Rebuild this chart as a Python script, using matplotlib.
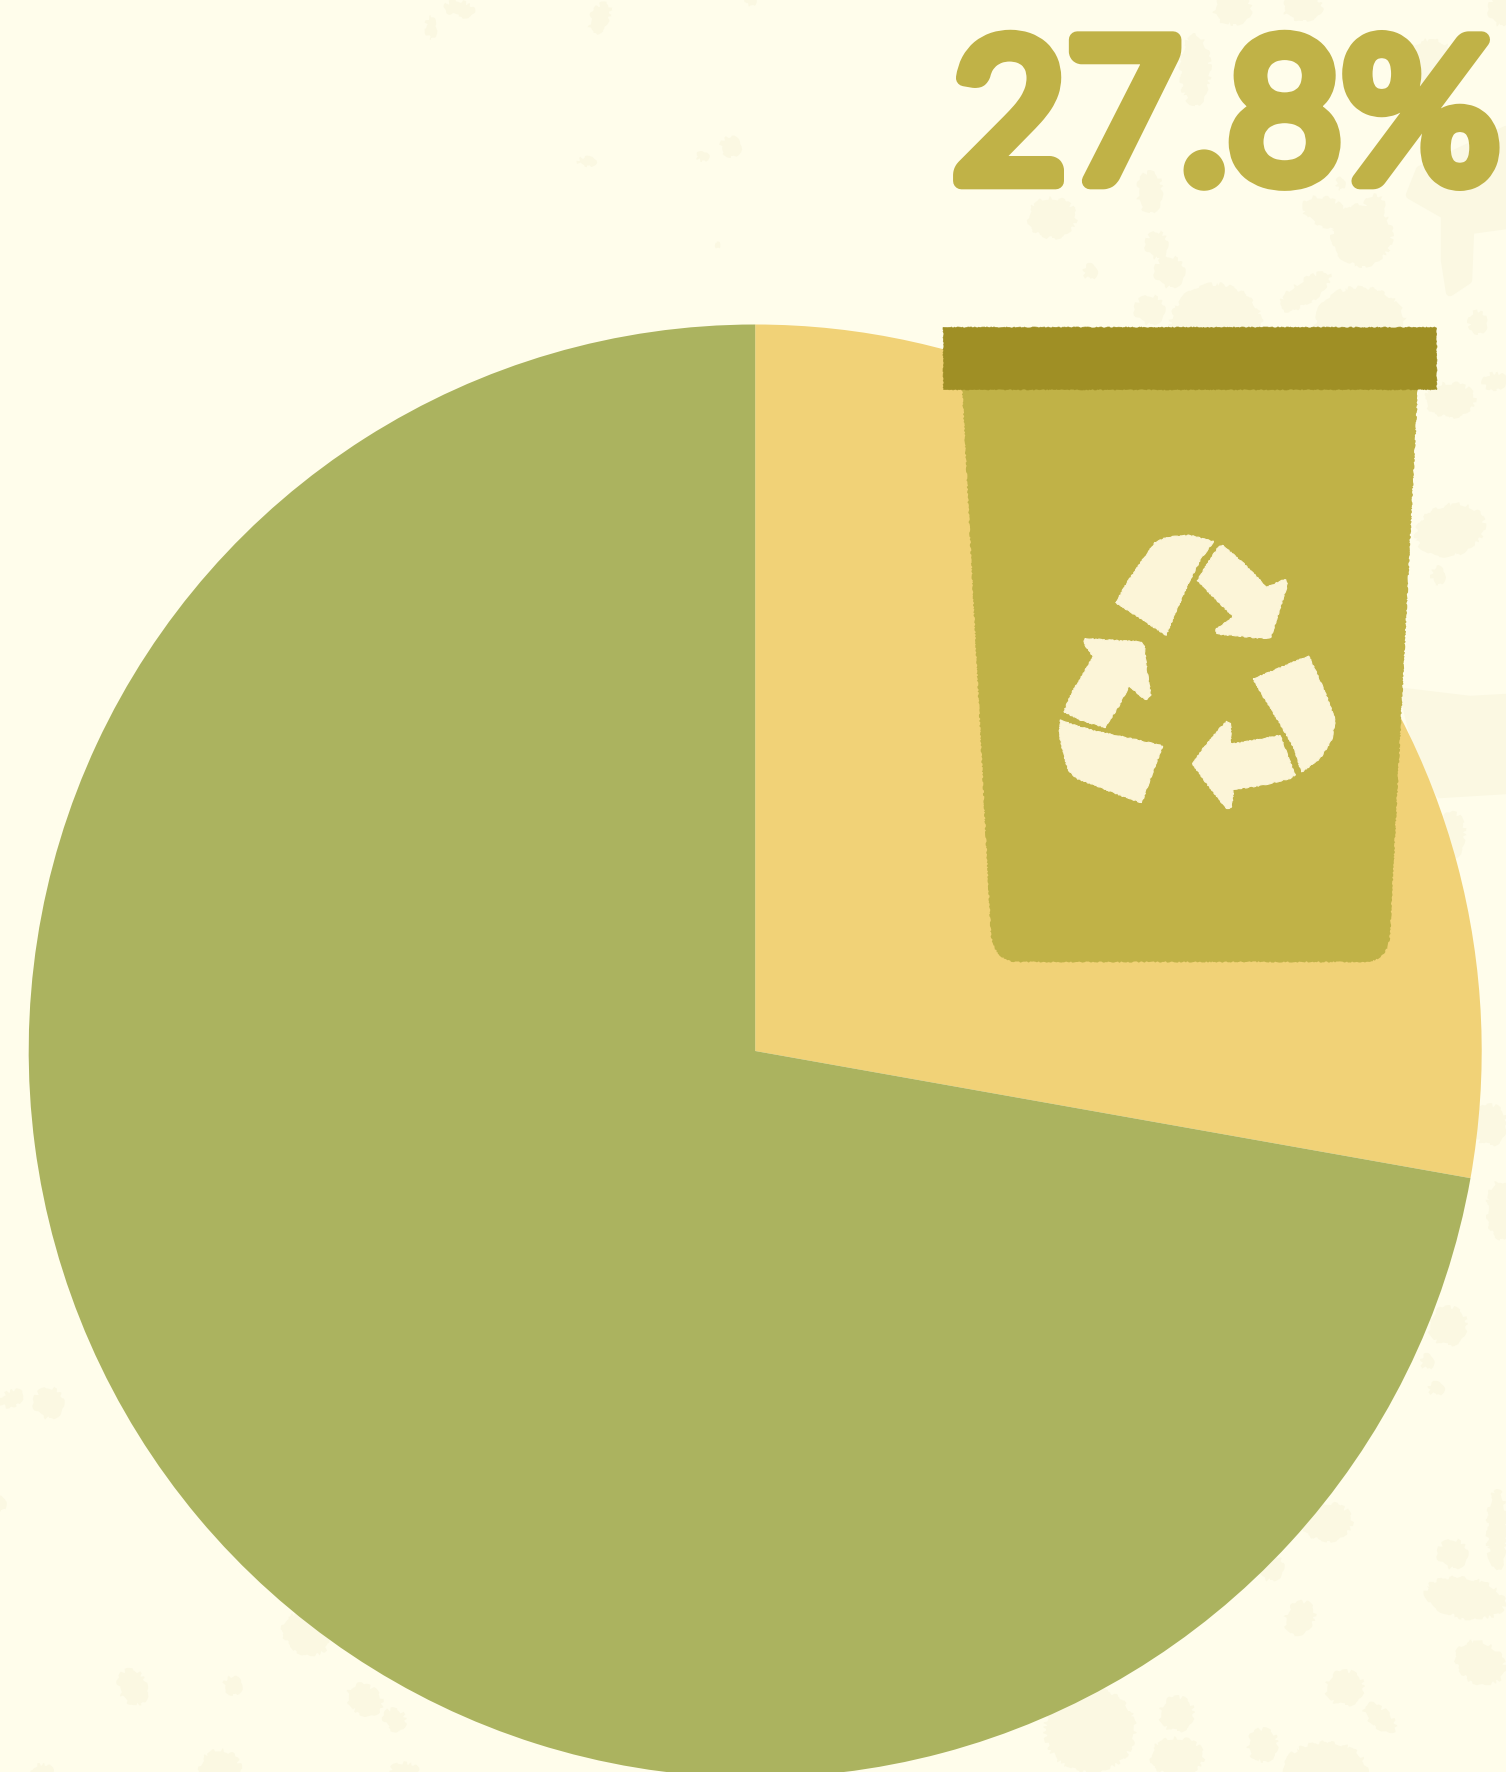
import matplotlib
matplotlib.use("Agg")
import matplotlib.pyplot as plt
import matplotlib.patheffects as pe
from matplotlib.patches import Ellipse, Polygon, PathPatch
from matplotlib.path import Path

# Share of waste that gets recycled
categories = ["Recycled", "Not recycled"]
shares = [27.8, 72.2]
share_label = "27.8%"

WIDTH, HEIGHT = 1506, 1772
PAPER = "#FFFDEB"
SPECKLE = "#FBF8E2"
SLICE_COLORS = ["#F1D277", "#ABB35F"]
BIN_COLOR = "#C0B247"
LID_COLOR = "#9F8F25"
ICON_COLOR = "#FCF5D8"


def flip(points):
    """Convert top-left pixel positions to the y-up axes used here."""
    return [(x, HEIGHT - y) for x, y in points]


fig = plt.figure(figsize=(WIDTH / 100, HEIGHT / 100), dpi=100, facecolor=PAPER)
ax = fig.add_axes([0, 0, 1, 1])
ax.set_facecolor(PAPER)

# Paper texture: faint blotches (cx, cy, width, height, tilt)
blotches = [
    (431, 27, 10, 22, 0), (460, 9, 30, 15, -10), (600, 18, 18, 32, -25), (750, 1, 10, 9, 0),
    (731, 146, 20, 20, 0), (702, 156, 12, 9, 0), (587, 161, 18, 9, 0), (717, 245, 3, 6, 0),
    (1052, 218, 48, 40, 0), (1150, 192, 25, 40, 0), (1157, 245, 22, 26, 0), (1170, 272, 30, 30, 0),
    (1090, 271, 13, 15, 0), (1150, 310, 30, 28, 0), (1216, 328, 92, 88, 0), (1305, 292, 60, 22, 35),
    (1360, 325, 90, 76, 0), (1325, 212, 45, 28, -20), (1362, 235, 60, 62, 0), (1375, 206, 20, 22, 0),
    (1478, 322, 18, 22, 0), (1340, 183, 8, 12, 0), (1233, 10, 38, 28, 0), (1303, 8, 40, 24, 0),
    (1195, 70, 30, 70, 0), (1430, 70, 60, 60, 0), (1500, 10, 22, 30, 0), (1450, 400, 50, 34, 0),
    (1495, 381, 24, 16, 10), (1450, 530, 70, 50, 15), (1438, 575, 13, 18, 0), (1452, 835, 26, 45, 0),
    (1490, 1125, 34, 40, 0), (1500, 1210, 26, 58, 0), (1448, 1326, 38, 38, 0), (1427, 1361, 12, 15, 0),
    (1436, 1388, 15, 13, 0), (1327, 1522, 50, 38, 0), (1270, 1567, 28, 26, 0), (1300, 1618, 28, 34, -30),
    (1453, 1554, 30, 28, 0), (1465, 1598, 80, 40, -10), (1497, 1530, 20, 80, 0), (1480, 1663, 52, 40, -30),
    (1345, 1688, 38, 34, 0), (1380, 1718, 40, 18, -40), (1263, 1745, 30, 32, 0), (1177, 1714, 34, 34, 0),
    (1090, 1730, 90, 85, 0), (1177, 1757, 53, 38, 0), (1325, 1772, 84, 60, 0), (12, 1398, 24, 15, 30),
    (49, 1403, 30, 30, 0), (1, 1503, 8, 14, 0), (305, 1635, 50, 36, -35), (133, 1687, 28, 36, 25),
    (233, 1685, 18, 18, 0), (365, 1700, 38, 28, -35), (395, 1720, 24, 20, -40), (220, 1772, 42, 44, 0),
    (43, 1772, 22, 16, 0), (405, 1770, 28, 14, 0),
]
for cx, cy, w, h, tilt in blotches:
    blotch = Ellipse((cx, HEIGHT - cy), w, h, angle=tilt, facecolor=SPECKLE, edgecolor="none", zorder=0)
    blotch.set_sketch_params(scale=2.0, length=30, randomness=20)
    ax.add_patch(blotch)

large_blotches = [
    [(1420, 170), (1506, 130), (1506, 225), (1470, 230), (1468, 280), (1450, 292), (1445, 260), (1445, 215), (1410, 195)],
    [(1403, 692), (1470, 700), (1506, 698), (1506, 790), (1440, 794), (1420, 760)],
]
for outline in large_blotches:
    ax.add_patch(Polygon(flip(outline), closed=True, facecolor=SPECKLE, edgecolor=SPECKLE,
                         linewidth=6, joinstyle="round", zorder=0))

# Pie, clockwise from twelve o'clock
ax.pie(shares, colors=SLICE_COLORS, startangle=90, counterclock=False,
       center=(755.2, HEIGHT - 1051), radius=726.5, frame=True,
       wedgeprops={"linewidth": 0, "zorder": 1})

# Waste bin: body with rounded lower corners, then the lid
body_path = Path(
    flip([(962, 385), (991, 935), (995, 962), (1018, 962), (1363, 962), (1388, 962), (1390, 935), (1418, 385), (962, 385)]),
    [Path.MOVETO, Path.LINETO, Path.CURVE3, Path.CURVE3, Path.LINETO, Path.CURVE3, Path.CURVE3, Path.LINETO, Path.CLOSEPOLY],
)
body = PathPatch(body_path, facecolor=BIN_COLOR, edgecolor="none", zorder=3)
body.set_sketch_params(scale=0.6, length=5, randomness=12)
ax.add_patch(body)

lid = Polygon(flip([(943, 327), (1436, 327), (1436, 389), (943, 389)]), closed=True,
              facecolor=LID_COLOR, edgecolor=LID_COLOR, linewidth=0.5, zorder=4)
lid.set_sketch_params(scale=0.5, length=5, randomness=12)
ax.add_patch(lid)

# Recycling symbol: three bands and three arrowheads, outlined at triple scale from (1030, 510)
symbol_parts = [
    [(258, 278), (290, 220), (345, 140), (375, 98), (410, 82), (480, 76), (550, 95), (510, 150), (470, 230), (440, 300), (408, 375)],
    [(578, 106), (640, 160), (710, 232), (765, 208), (773, 220), (745, 310), (722, 382), (700, 385), (600, 375), (560, 372),
     (558, 358), (610, 320), (560, 270), (502, 212), (530, 165), (565, 112)],
    [(670, 507), (836, 438), (860, 490), (890, 560), (915, 630), (905, 690), (870, 745), (815, 786), (790, 710), (750, 640), (700, 560)],
    [(590, 635), (602, 640), (602, 703), (680, 690), (750, 676), (770, 730), (795, 795), (780, 805), (700, 825), (610, 838),
     (605, 890), (592, 897), (580, 885), (530, 820), (487, 760), (520, 715), (570, 655)],
    [(92, 630), (130, 645), (200, 665), (300, 685), (398, 708), (370, 780), (335, 878), (270, 855), (140, 805), (115, 780),
     (95, 710), (88, 670)],
    [(165, 386), (260, 392), (335, 396), (343, 410), (350, 480), (362, 555), (350, 568), (340, 565), (298, 527), (265, 590),
     (225, 652), (150, 630), (102, 605), (125, 550), (160, 490), (190, 440), (162, 400)],
]
for part in symbol_parts:
    outline = flip([(1030 + x / 3, 510 + y / 3) for x, y in part])
    piece = Polygon(outline, closed=True, facecolor=ICON_COLOR, edgecolor=ICON_COLOR,
                    linewidth=0.8, joinstyle="round", zorder=5)
    piece.set_sketch_params(scale=0.5, length=5, randomness=12)
    ax.add_patch(piece)

# Headline figure: a regular weight thickened by a round stroke
ax.text(1500, HEIGHT - 181, share_label, ha="right", va="baseline", color=BIN_COLOR,
        fontsize=142, fontweight="regular", fontfamily="Lato", zorder=6,
        path_effects=[pe.withStroke(linewidth=12, foreground=BIN_COLOR)])

ax.set_xlim(0, WIDTH)
ax.set_ylim(0, HEIGHT)
ax.set_aspect("auto")
ax.axis("off")
fig.savefig("out.png", dpi=100, facecolor=PAPER)
